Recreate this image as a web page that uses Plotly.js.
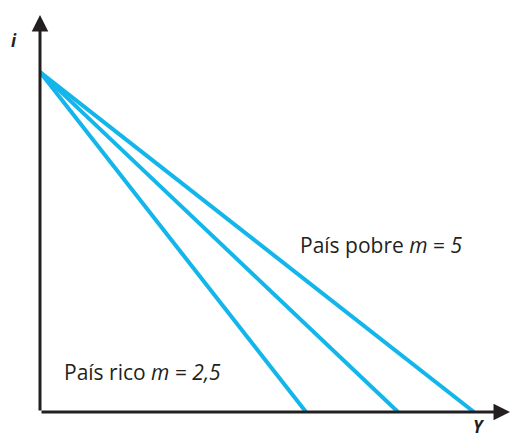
<!DOCTYPE html>
<html>
<head>
<meta charset="utf-8">
<script src="https://cdn.plot.ly/plotly-3.0.1.min.js"></script>
<style>
  html, body { margin: 0; padding: 0; background: #fff; }
  #chart { width: 510px; height: 439px; }
</style>
</head>
<body>
<div id="chart"></div>
<script>
// IS curves: common interest-rate intercept, different output intercepts
var curveNames = ["m = 2,5", "m intermedio", "m = 5"];
var rateIntercept = [10, 10, 10];
var outputIntercept = [2.66, 3.58, 4.34];

var axisMax = { x: 4.7, y: 11.68 };
var ink = "#231f20";
var cyan = "#12b6ea";

var traces = curveNames.map(function (name, k) {
  return {
    type: "scatter",
    mode: "lines",
    name: name,
    x: [0, outputIntercept[k]],
    y: [rateIntercept[k], 0],
    line: { color: cyan, width: 4 },
    hoverinfo: "skip",
    showlegend: false
  };
});

var labelFont = { family: "Open Sans, sans-serif", size: 21, color: ink };
var axisLabelFont = { family: "Open Sans, sans-serif", size: 17, color: ink };

var layout = {
  width: 510,
  height: 439,
  margin: { l: 40, r: 0, t: 15, b: 27 },
  paper_bgcolor: "#ffffff",
  plot_bgcolor: "#ffffff",
  xaxis: { range: [0, axisMax.x], visible: false, fixedrange: true },
  yaxis: { range: [0, axisMax.y], visible: false, fixedrange: true },
  annotations: [
    // vertical axis with arrow
    { x: 0, y: axisMax.y, ax: 0, ay: 0, xref: "x", yref: "y", axref: "x", ayref: "y",
      showarrow: true, arrowhead: 2, arrowsize: 1.1, arrowwidth: 3, arrowcolor: ink, text: "" },
    // horizontal axis with arrow
    { x: axisMax.x, y: 0, ax: 0, ay: 0, xref: "x", yref: "y", axref: "x", ayref: "y",
      showarrow: true, arrowhead: 2, arrowsize: 1.1, arrowwidth: 3, arrowcolor: ink, text: "" },
    { x: -0.055, y: 0.935, xref: "paper", yref: "paper", xanchor: "center", yanchor: "middle",
      showarrow: false, borderpad: 0, text: "<b><i>i</i></b>", font: axisLabelFont },
    { x: 0.934, y: -0.006, xref: "paper", yref: "paper", xanchor: "center", yanchor: "top",
      showarrow: false, borderpad: 0, text: "<b><i>Y</i></b>", font: axisLabelFont },
    { x: 2.58, y: 4.91, xref: "x", yref: "y", xanchor: "left", yanchor: "middle", showarrow: false,
      text: "País pobre <i>m</i> = <i>5</i>", font: labelFont },
    { x: 0.22, y: 1.18, xref: "x", yref: "y", xanchor: "left", yanchor: "middle", showarrow: false,
      text: "País rico <i>m</i> = <i>2,5</i>", font: labelFont }
  ]
};

Plotly.newPlot("chart", traces, layout, { displayModeBar: false, staticPlot: true });
</script>
</body>
</html>
